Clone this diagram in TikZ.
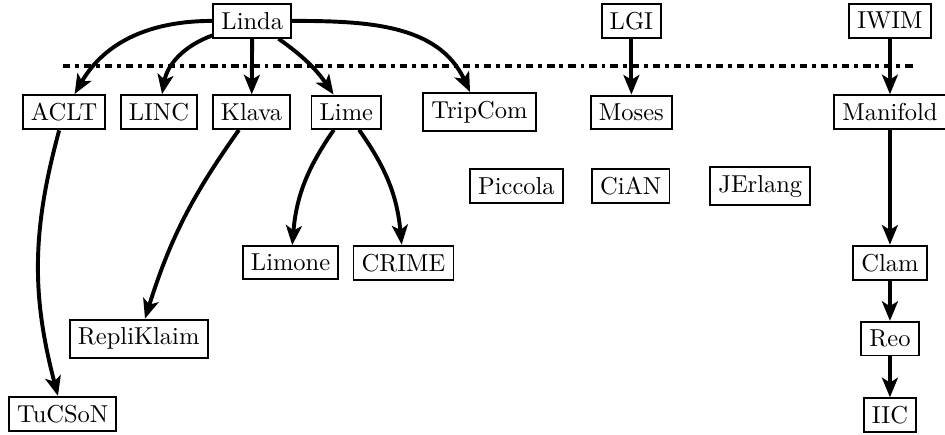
\documentclass[tikz,border=0pt]{standalone}
\usetikzlibrary{arrows.meta}
\begin{document}
\begin{tikzpicture}[box/.style={draw,thick}]
      \useasboundingbox (0,0) rectangle (13.56,-6.24);
      \draw
        (3.62,-0.30) node[box] (Linda){Linda}
        (9.06,-0.30) node[box] (LGI){LGI}
        (12.77,-0.30) node[box] (IWIM){IWIM}
        (0.92,-1.61) node[box] (ACLT){ACLT}
        (2.28,-1.61) node[box] (LINC){LINC}
        (3.61,-1.61) node[box] (Klava){Klava}
        (4.97,-1.61) node[box] (Lime){Lime}
        (6.88,-1.61) node[box] (TripCom){TripCom}
        (9.06,-1.61) node[box] (Moses){Moses}
        (12.77,-1.61) node[box] (Manifold){Manifold}
        (7.41,-2.67) node[box] (Piccola){Piccola}
        (9.05,-2.67) node[box] (CiAN){CiAN}
        (10.91,-2.67) node[box] (JErlang){JErlang}
        (4.17,-3.77) node[box] (Limone){Limone}
        (5.79,-3.77) node[box] (CRIME){CRIME}
        (12.77,-3.77) node[box] (Clam){Clam}
        (1.99,-4.86) node[box] (RepliKlaim){RepliKlaim}
        (12.77,-4.86) node[box] (Reo){Reo}
        (0.90,-5.94) node[box] (TuCSoN){TuCSoN}
        (12.77,-5.96) node[box] (IIC){IIC};
      \coordinate (sepL) at (0.90,-0.95);
      \coordinate (sepR) at (13.10,-0.95);
      \draw[ultra thick, dash dot] (sepL) -- (sepR);
      \begin{scope}[->, >={Stealth[length=8pt,width=6.5pt,inset=2pt]}, ultra thick]
        \draw (Linda) to[out=180,in=60] (ACLT);
        \draw (Linda) to[out=200,in=80] (LINC);
        \draw (Linda) to (Klava);
        \draw (Linda) to[bend left=10] (Lime);
        \draw (Linda) to[out=0,in=115] (TripCom);
        \draw (LGI) to (Moses);
        \draw (IWIM) to (Manifold);
        \draw (ACLT) to[bend right=15] (TuCSoN);
        \draw (Klava) to[bend right=9] (RepliKlaim);
        \draw (Lime) to[bend right=15] (Limone);
        \draw (Lime) to[bend left=15] (CRIME);
        \draw (Manifold) to (Clam);
        \draw (Clam) to (Reo);
        \draw (Reo) to (IIC);
      \end{scope}
    \end{tikzpicture}
\end{document}
